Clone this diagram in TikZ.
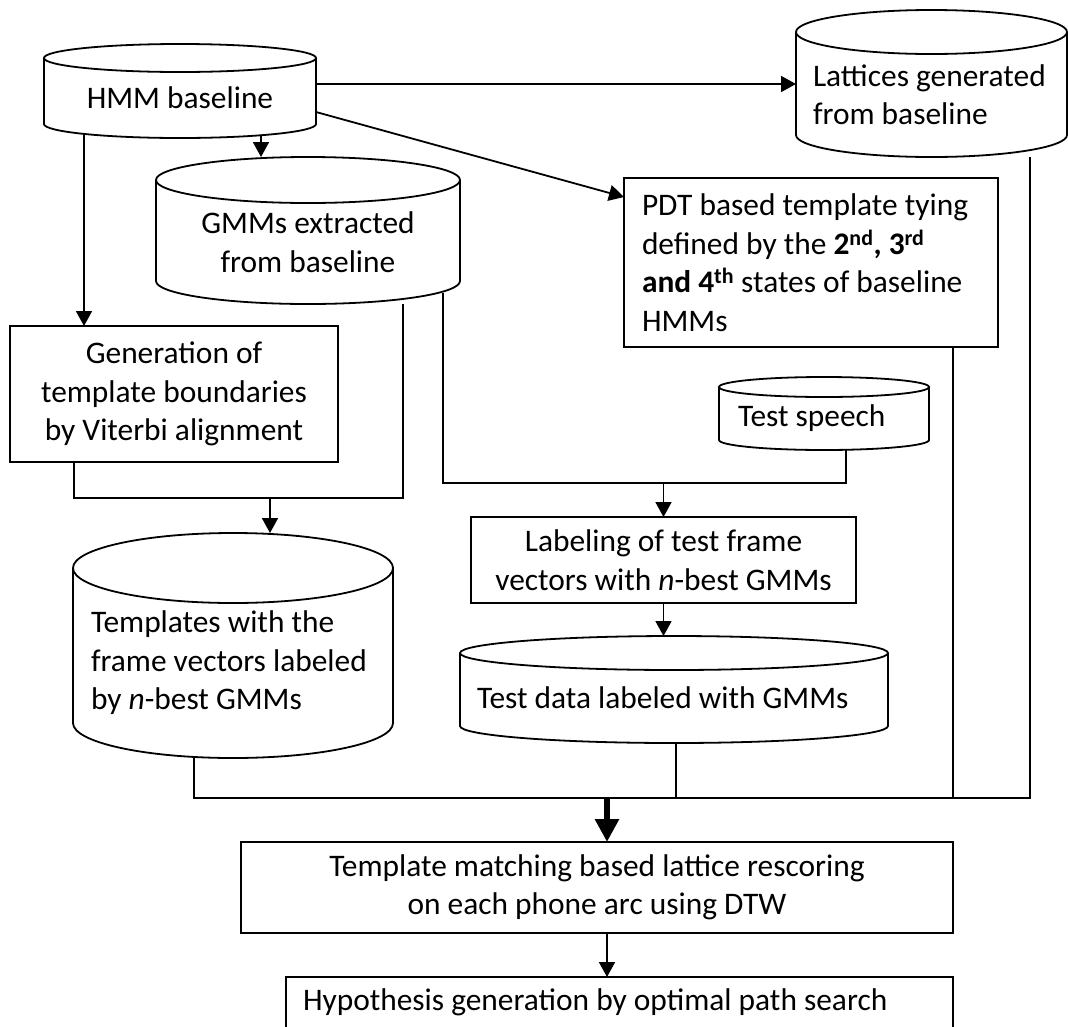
\documentclass[tikz,border=0pt]{standalone}
\usepackage{fontspec}
\setmainfont{Carlito}
\usetikzlibrary{arrows.meta,positioning}

\begin{document}
\begin{tikzpicture}[x=1pt,y=1pt,line width=1.8pt,
    font=\fontsize{31.4}{38.5}\selectfont,
    >={Triangle[length=15pt,width=16pt]}]
  \tikzstyle{block}=[draw,rectangle,inner sep=0pt,outer sep=0pt,align=center]
  \tikzstyle{drum}=[rectangle,inner sep=0pt,outer sep=0pt,align=center]
  \tikzstyle{flow}=[->]
  \tikzstyle{bigflow}=[-{Triangle[length=23pt,width=23pt]},line width=6pt]

  \useasboundingbox (0,0) rectangle (1068,-1026);

  % stores: the node is the body under the centre of the top ellipse
  \node[drum,minimum width=272pt,minimum height=80pt] (HMM) at (180,-98) {HMM baseline};
  \node[drum,minimum width=304pt,minimum height=124pt] (GMM) at (308,-242) {GMMs extracted\\from baseline};
  \node[drum,text width=237pt,inner xsep=17pt,align=flush left,minimum height=125pt] (Lat) at (931.5,-94.5) {Lattices generated\\from baseline};
  \node[drum,text width=284pt,inner xsep=18pt,align=flush left,minimum height=190pt] (Tpl) at (233,-663) {Templates with the\\frame vectors labeled\\by \textit{n}-best GMMs};
  \node[drum,text width=172pt,inner xsep=19pt,align=flush left,minimum height=63pt] (Speech) at (824,-418.5) {Test speech};
  \node[drum,text width=394pt,inner xsep=17pt,align=flush left,minimum height=90pt] (Data) at (674,-698) {Test data labeled with GMMs};

  \foreach \name/\w/\r in {HMM/272/14, GMM/304/23, Lat/271/22, Tpl/320/35, Speech/210/10, Data/428/17}{
    \draw (\name.north west) -- ([yshift=\r pt]\name.south west)
      arc[start angle=180, end angle=360, x radius=\w/2, y radius=\r]
      -- (\name.north east)
      arc[start angle=0, end angle=360, x radius=\w/2, y radius=\r];
    \coordinate (\name-top) at ([yshift=\r pt]\name.north);
  }

  % processing steps
  \node[block,minimum width=328pt,minimum height=136pt] (Gen) at (174,-394) {Generation of\\template boundaries\\by Viterbi alignment};
  \node[block,text width=338pt,inner xsep=18pt,align=flush left,minimum height=169pt] (PDT) at (811,-262.5)
    {PDT based template tying\\defined by the \textbf{2\textsuperscript{nd}, 3\textsuperscript{rd}}\\\textbf{and 4\textsuperscript{th}} states of baseline\\HMMs};
  \node[block,minimum width=385pt,minimum height=86pt] (Lab) at (663.5,-560) {Labeling of test frame\\vectors with \textit{n}-best GMMs};
  \node[block,minimum width=712pt,minimum height=91pt] (TM) at (597,-887.5) {Template matching based lattice rescoring\\on each phone arc using DTW};
  \node[block,text width=633pt,inner xsep=17pt,align=flush left,minimum height=51pt] (Hyp) at (619.5,-1002.5) {Hypothesis generation by optimal path search};

  % from the baseline
  \draw[flow] ([yshift=14pt]HMM.east) -- ([yshift=14pt]HMM.east -| Lat.west);
  \draw[flow] ([yshift=-14pt]HMM.east) -- ([yshift=65.5pt]PDT.west);
  \coordinate (h1) at ([xshift=-96pt,yshift=4pt]HMM.south);
  \draw[flow] (h1) -- (h1 |- Gen.north);
  \coordinate (h2) at ([xshift=81pt,yshift=3pt]HMM.south);
  \draw[flow] (h2) -- (h2 |- GMM-top);

  % templates
  \coordinate (t0) at ([xshift=37pt]Tpl-top);
  \coordinate (j1) at ([yshift=35pt]t0);
  \draw ([xshift=-100pt]Gen.south) |- (j1) -| ([xshift=95pt]GMM.south);
  \draw[flow] (j1) -- (t0);

  % test side
  \coordinate (j2) at ([yshift=34pt]Lab.north);
  \draw ([xshift=135pt,yshift=11pt]GMM.south) |- (j2) -| ([xshift=22pt]Speech.south);
  \draw[flow] (j2) -- (Lab);
  \draw[flow] (Lab.south) -- (Lab.south |- Data-top);

  % everything into the rescoring
  \coordinate (j3) at ([xshift=10pt,yshift=44pt]TM.north);
  \draw ([xshift=-39pt]Tpl.south) |- (j3) -| ([xshift=98.5pt]Lat.south);
  \draw ([xshift=2pt]Data.south) -- ([xshift=2pt]Data.south |- j3);
  \draw ([xshift=142pt]PDT.south) -- ([xshift=142pt]PDT.south |- j3);
  \draw[bigflow] (j3) -- (j3 |- TM.north);
  \coordinate (m1) at ([xshift=10pt]TM.south);
  \draw[flow] (m1) -- (m1 |- Hyp.north);
\end{tikzpicture}
\end{document}
